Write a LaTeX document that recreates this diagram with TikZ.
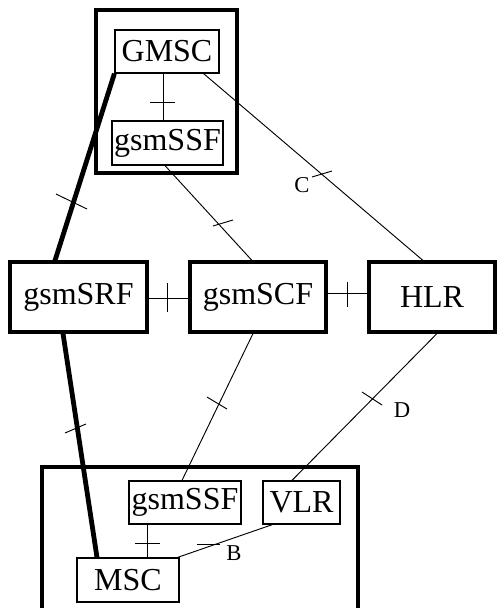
\documentclass[tikz,border=0pt]{standalone}
\usepackage{fontspec}
\setmainfont{Liberation Serif}
\usepackage{tikz}
\usetikzlibrary{calc}
\tikzset{
    netbox/.style={rectangle, draw, line width=2.3pt, inner sep=0pt, font=\fontsize{24}{27}\selectfont},
    funcbox/.style={rectangle, draw, line width=0.9pt, inner sep=0pt, font=\fontsize{24}{27}\selectfont},
    framebox/.style={rectangle, draw, line width=2.4pt, inner sep=0pt},
    iface/.style={draw, line width=0.7pt},
    bigiface/.style={draw, line width=3.6pt},
    ifacelabel/.style={font=\fontsize{17}{20}\selectfont, inner sep=0pt}
}
\begin{document}
\begin{tikzpicture}[x=0.75pt, y=-0.75pt]
    \useasboundingbox (0,0) rectangle (497,608);
    % frames
    \node[framebox, minimum width=141*0.75pt, minimum height=163*0.75pt] (topframe) at (166.5,91.5) {};
    \node[framebox, minimum width=316*0.75pt, minimum height=160*0.75pt] (botframe) at (200,547) {};
    % nodes
    \node[funcbox, minimum width=104*0.75pt, minimum height=43*0.75pt] (gmsc) at (167,51.5) {GMSC};
    \node[funcbox, minimum width=111*0.75pt, minimum height=44*0.75pt] (ssftop) at (167.5,143) {gsmSSF};
    \node[netbox, minimum width=137*0.75pt, minimum height=70*0.75pt] (srf) at (78.5,297) {gsmSRF};
    \node[netbox, minimum width=136*0.75pt, minimum height=70*0.75pt] (scf) at (258,297) {gsmSCF};
    \node[netbox, minimum width=126*0.75pt, minimum height=70*0.75pt] (hlr) at (432,297) {HLR};
    \node[funcbox, minimum width=112*0.75pt, minimum height=43*0.75pt] (ssfbot) at (185,502.5) {gsmSSF};
    \node[funcbox, minimum width=77*0.75pt, minimum height=43*0.75pt] (vlr) at (301.5,502.5) {VLR};
    \node[funcbox, minimum width=102*0.75pt, minimum height=44*0.75pt] (msc) at (128,580) {MSC};
    % interfaces
    \draw[iface] ($(gmsc.south)+(-4,0)$) -- ($(ssftop.north)+(-4.5,0)$);
    \draw[bigiface] (gmsc.south west) -- ($(srf.north)+(-23.5,0)$);
    \draw[iface] ($(gmsc.south east)+(-16,0)$) -- ($(hlr.north)+(-9,0)$);
    \draw[iface] ($(ssftop.south)+(-2.5,0)$) -- ($(scf.north)+(-6,0)$);
    \draw[iface] ($(srf.east)+(0,1)$) -- ($(scf.west)+(0,1)$);
    \draw[iface] ($(scf.east)+(0,-4)$) -- ($(hlr.west)+(0,-4)$);
    \draw[iface] ($(scf.south)+(-5,0)$) -- ($(ssfbot.north)+(-3,0)$);
    \draw[iface] ($(hlr.south)+(5,0)$) -- ($(vlr.north)+(-9.5,0)$);
    \draw[bigiface] ($(srf.south)+(-15.5,0)$) -- ($(msc.north)+(-31,0)$);
    \draw[iface] ($(ssfbot.south)+(-38,0)$) -- ($(msc.north)+(19,0)$);
    \draw[iface] ($(vlr.south west)+(10,0)$) -- ($(msc.north east)+(-2,0)$);
    % ticks
    \foreach \a/\b in {{150,102}/{175,102}, {56,194}/{87,209}, {312,177}/{332,171},
        {213,226}/{233,220}, {167,283}/{167,312}, {347,282}/{347,307},
        {207,397}/{227,409}, {362,392}/{382,405}, {65,433}/{86,424},
        {135,543}/{160,543}, {197,544}/{220,544}}
        \draw[iface] (\a) -- (\b);
    % labels
    \node[ifacelabel] (labc) at (302,185) {C};
    \node[ifacelabel] (labd) at (402,410) {D};
    \node[ifacelabel] (labb) at (234,553) {B};
\end{tikzpicture}
\end{document}
